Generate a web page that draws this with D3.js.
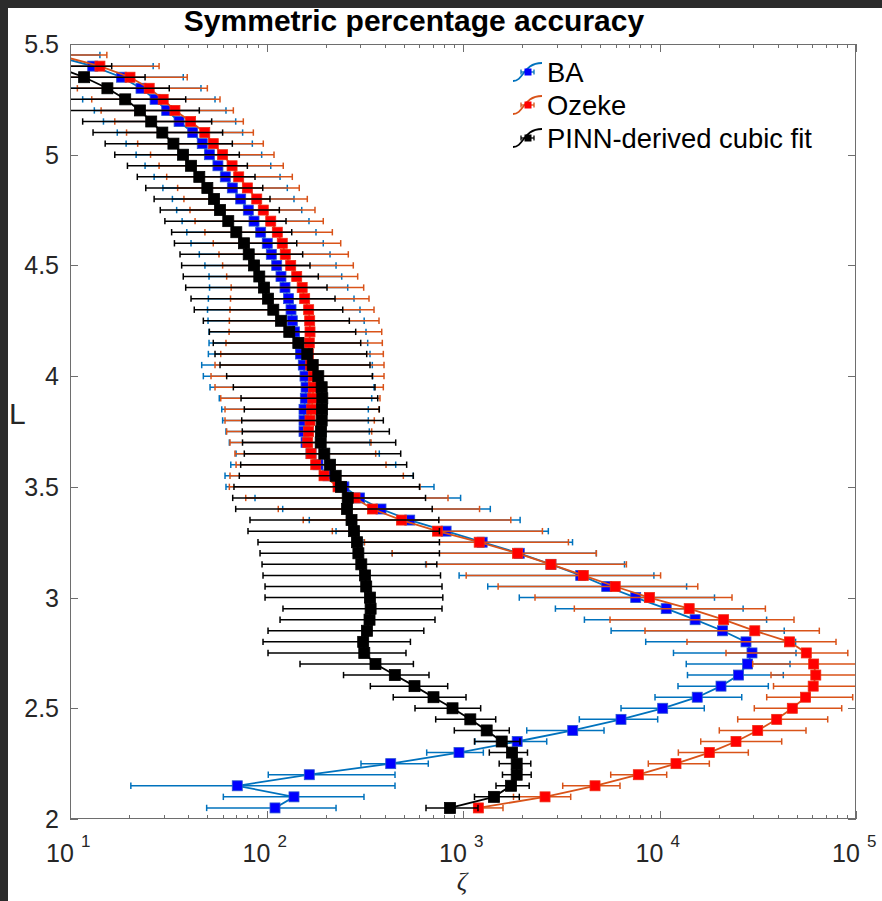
<!DOCTYPE html>
<html>
<head>
<meta charset="utf-8">
<script src="https://cdn.jsdelivr.net/npm/d3@7"></script>
<style>
  body { margin: 0; background: #fff; }
  svg { display: block; }
</style>
</head>
<body>
<svg id="chart" width="882" height="901"></svg>
<script>
// L shells for the BA and Ozeke series (top to bottom)
const Lvals = [5.45,5.40,5.35,5.30,5.25,5.20,5.15,5.10,5.05,5.00,
  4.95,4.90,4.85,4.80,4.75,4.70,4.65,4.60,4.55,4.50,
  4.45,4.40,4.35,4.30,4.25,4.20,4.15,4.10,4.05,4.00,
  3.95,3.90,3.85,3.80,3.75,3.70,3.65,3.60,3.55,3.50,
  3.45,3.40,3.35,3.30,3.25,3.20,3.15,3.10,3.05,3.00,
  2.95,2.90,2.85,2.80,2.75,2.70,2.65,2.60,2.55,2.50,
  2.45,2.40,2.35,2.30,2.25,2.20,2.15,2.10,2.05];

// BA: accuracy value and its lower / upper error limits
const baZeta = [8.10,13.05,18.3,22.98,27.1,31.05,35.9,42.1,47.1,51.2,
  56.6,61.7,67.0,73.9,80.8,86.4,93.4,100.9,105.8,112.7,
  118.5,124.2,129.4,133.3,135.3,138.8,146.3,148.9,153.9,157,
  158.9,157.6,155.2,155.2,155.2,158.9,168.5,182.9,205.6,247.7,
  297.4,382.6,535.6,820.4,1252,1934,2802,3972,5387,7567,
  10818,15180,20925,27555,29560,28070,25240,20560,15560,10380,
  6370,3617,1887,954,428.7,165.1,71.0,138,110.5];
const baLo = [5.57,6.64,8.39,9.54,11.6,13.3,14.8,17.4,19.3,21.7,
  24.1,26.8,29.7,33.2,34.9,37.2,39.3,41.3,45.5,48.6,
  51.0,51.3,50.6,50.1,50.4,51.0,51.0,50.6,46.8,47.7,
  51.6,57.5,59.2,59.8,62.2,64.7,70.0,65.8,61.5,62.2,
  87.4,120.9,165.1,225.9,313.4,436.4,645.3,955.4,1336,1934,
  2953,4148,5672,8508,11780,13680,13880,12420,9487,6370,
  3908,2110,1151,653.5,302.6,102.1,20.4,60.3,49.6];
const baHi = [14.2,26.5,37.7,46.4,54.7,62.2,69.7,75.6,84.7,94.5,
  105.1,117.2,127.6,138,151.1,164.5,178.6,194.5,210.5,225.9,
  241.4,259,278.8,299.1,314.1,320.9,327.3,336.3,345.5,347.2,
  352.5,343.1,329.7,329.7,333.6,336.3,375,454.5,558.5,711.8,
  972.3,1377,1953,2718,3609,4770,6636,9365,13740,19050,
  26640,35080,43120,49270,49510,46150,42660,35790,26210,16900,
  9790,5220,2667,1269,665.8,450.8,450.8,313.4,225.9];

// Ozeke
const ozZeta = [8.69,14.2,20.2,25.3,29.8,34.2,41.1,48.5,53.6,59.8,
  66.8,72.2,79.9,89.2,96.3,105.1,113.5,120.3,124.6,132.8,
  142.5,151.9,156.4,163.9,165.9,166.5,165.1,163.2,167.9,173.1,
  173.1,171.9,169.8,166.5,163.9,162.1,168.5,178,196.2,231.2,
  282.1,346.3,486.5,741.8,1209,1894,2802,4095,5953,8885,
  14160,21200,30550,45880,55860,60900,62430,60560,55400,47410,
  39480,31600,24510,17930,12130,7801,4698,2615,1197];
const ozLo = [5.90,7.04,8.69,10.9,12.9,14.4,16.9,19.4,22.1,25.7,
  28.4,31.05,35.3,38.0,40.8,43.3,48.6,53.6,57.3,59.8,
  62.7,66.1,65.6,65.2,64.7,64.5,62.2,58.5,54.7,52.2,
  54.7,58.5,61.5,61.5,62.7,65.2,69.1,70.0,65.2,64.7,
  78.4,114.8,153.8,216.3,315.2,436.4,651.1,1038,1509,2325,
  3686,5600,8438,13800,21800,29810,36940,38040,35120,30370,
  25000,20150,16210,12470,8770,5646,3217,1807,1138];
const ozHi = [15.4,28.4,39.5,50.0,58.0,67.8,76.2,85.7,96.3,109.2,
  121.7,135.3,146.8,161.3,176.5,194.5,216.3,238.6,260.8,276.5,
  291.1,312.3,332.4,352.5,373.7,385.8,388.5,393.1,396.3,396.3,
  393.1,378.1,373.7,353.7,343.1,340.3,359.5,405.7,497,604.1,
  838.9,1214,1751,2536,3439,4770,6786,10130,15660,23390,
  34580,48360,65060,79120,90840,120600,124900,102400,96200,84580,
  71780,55660,41870,28310,17930,10880,6295,3533,1598];

// PINN-derived cubic fit (starts one shell lower)
const pinnL = [5.40,5.35,5.30,5.25,5.20,5.15,5.10,5.05,5.00,
  4.95,4.90,4.85,4.80,4.75,4.70,4.65,4.60,4.55,4.50,
  4.45,4.40,4.35,4.30,4.25,4.20,4.15,4.10,4.05,4.00,
  3.95,3.90,3.85,3.80,3.75,3.70,3.65,3.60,3.55,3.50,
  3.45,3.40,3.35,3.30,3.25,3.20,3.15,3.10,3.05,3.00,
  2.95,2.90,2.85,2.80,2.75,2.70,2.65,2.60,2.55,2.50,
  2.45,2.40,2.35,2.30,2.25,2.20,2.15,2.10,2.05];
const pinnZeta = [8.29,11.8,15.5,19.1,22.7,25.9,29.5,33.6,37.6,
  41.3,45.5,50.0,54.1,58.0,63.9,70.2,76.8,81.2,86.4,
  91.9,97.1,101.8,108.3,118.5,130.6,145.2,161.3,171.9,183.5,
  190.9,192.3,191.6,190.9,189.4,188.7,196.9,210.5,225,239.4,
  259,257,270.8,278.8,288.8,293.5,303.7,317.5,321.7,335.9,
  338.7,334.4,324.3,310.5,314.5,358.6,449.8,566.5,707.7,884.5,
  1089.5,1320,1574,1776,1876,1876,1755,1438,858.8];
const pinnLo = [6.26,7.04,8.39,9.43,9.77,11.6,13.1,15.1,16.9,
  19.6,22.0,24.3,26.8,28.8,30.4,32.9,34.0,36.3,37.0,
  37.7,38.8,41.3,42.9,47.7,51.2,53.6,54.7,58.0,62.7,
  67.8,74.2,77.1,74.8,75.3,75.5,77.1,73.9,72.7,68.3,
  67.3,69.7,82.4,80.5,90.5,92.7,94.9,96.0,98.3,98.3,
  121.3,117.2,101.8,96.0,101.8,148.1,246.6,337.6,441.5,569.8,
  726.2,903.1,1144,1361,1528,1588,1472,1144,648.1];
const pinnHi = [16.3,24.1,32.0,38.8,45.5,52.6,59.8,67.0,72.7,
  79.9,87.4,95.7,104.2,116.2,125.7,134.4,142.5,152.8,166.5,
  183.5,203.2,223.2,244.3,263.9,284.4,301.6,323.6,336.3,345.5,
  356.6,368.1,375,393.1,421.7,454.5,481.9,516.8,558.5,600.5,
  644.6,697.1,753.3,758.6,758.6,758.6,735.8,768.4,782,789.4,
  782,720.2,631.8,540,512.7,559.2,671.4,835.8,1036,1230,
  1467,1720,1950,2129,2213,2223,2172,1934,1192];

const seriesNames = ["BA", "Ozeke", "PINN-derived cubic fit"];
const titleText = "Symmetric percentage accuracy";
const xDomain = [10, 1e5];
const yDomain = [2, 5.5];
const yTickValues = [2, 2.5, 3, 3.5, 4, 4.5, 5, 5.5];

// ---- layout ----
const W = 882, H = 901;
const box = { left: 70, right: 856, top: 44, bottom: 819 };
const FONT = "'Liberation Sans', Arial, Helvetica, sans-serif";

const x = d3.scaleLog().domain(xDomain).range([box.left, box.right]);
const y = d3.scaleLinear().domain(yDomain).range([box.bottom, box.top]);

const svg = d3.select("#chart");
svg.append("rect").attr("width", W).attr("height", H).attr("fill", "#fff");

svg.append("defs").append("clipPath").attr("id", "plotClip")
  .append("rect")
  .attr("x", box.left).attr("y", box.top)
  .attr("width", box.right - box.left).attr("height", box.bottom - box.top);

const series = [
  { name: seriesNames[0], L: Lvals, z: baZeta, lo: baLo, hi: baHi,
    color: "#0072BD", face: "#0000FF", edge: "#2a55d0", size: 10 },
  { name: seriesNames[1], L: Lvals, z: ozZeta, lo: ozLo, hi: ozHi,
    color: "#D95319", face: "#FF0000", edge: "#f02a10", size: 10 },
  { name: seriesNames[2], L: pinnL, z: pinnZeta, lo: pinnLo, hi: pinnHi,
    color: "#000000", face: "#000000", edge: "#000000", size: 11 }
];

const plot = svg.append("g").attr("clip-path", "url(#plotClip)");
const capH = 3.2;

series.forEach(s => {
  const pts = s.L.map((L, i) => ({ L, z: s.z[i], lo: s.lo[i], hi: s.hi[i] }));
  const g = plot.append("g");

  // horizontal error bars with end caps
  const eb = g.append("g").attr("stroke", s.color).attr("stroke-width", 1.5).attr("fill", "none");
  pts.forEach(p => {
    const yy = y(p.L);
    eb.append("line").attr("x1", x(p.lo)).attr("x2", x(p.hi)).attr("y1", yy).attr("y2", yy);
    eb.append("line").attr("x1", x(p.lo)).attr("x2", x(p.lo)).attr("y1", yy - capH).attr("y2", yy + capH);
    eb.append("line").attr("x1", x(p.hi)).attr("x2", x(p.hi)).attr("y1", yy - capH).attr("y2", yy + capH);
  });

  // connecting line
  g.append("path")
    .datum(pts)
    .attr("fill", "none")
    .attr("stroke", s.color)
    .attr("stroke-width", 1.8)
    .attr("d", d3.line().x(d => x(d.z)).y(d => y(d.L)));

  // square markers
  g.append("g").selectAll("rect").data(pts).join("rect")
    .attr("x", d => x(d.z) - s.size / 2)
    .attr("y", d => y(d.L) - s.size / 2)
    .attr("width", s.size).attr("height", s.size)
    .attr("fill", s.face)
    .attr("stroke", s.edge).attr("stroke-width", 0.8);
});

// ---- axes box and ticks ----
const axisColor = "#6e6e6e";
const axes = svg.append("g").attr("stroke", axisColor).attr("stroke-width", 1).attr("fill", "none");
axes.append("rect")
  .attr("x", box.left + 0.5).attr("y", box.top + 0.5)
  .attr("width", box.right - box.left - 1).attr("height", box.bottom - box.top - 1);

x.ticks().forEach(v => {
  const major = Math.abs(Math.log10(v) - Math.round(Math.log10(v))) < 1e-9;
  const len = major ? 8 : 4;
  const xx = Math.round(x(v)) + 0.5;
  axes.append("line").attr("x1", xx).attr("x2", xx).attr("y1", box.bottom).attr("y2", box.bottom - len);
  axes.append("line").attr("x1", xx).attr("x2", xx).attr("y1", box.top).attr("y2", box.top + len);
});
yTickValues.forEach(v => {
  const yy = Math.round(y(v)) + 0.5;
  axes.append("line").attr("x1", box.left).attr("x2", box.left + 8).attr("y1", yy).attr("y2", yy);
  axes.append("line").attr("x1", box.right).attr("x2", box.right - 8).attr("y1", yy).attr("y2", yy);
});

// y tick labels
svg.append("g").selectAll("text").data(yTickValues).join("text")
  .attr("x", box.left - 11)
  .attr("y", d => y(d) + 9)
  .attr("text-anchor", "end")
  .attr("font-family", FONT).attr("font-size", 25).attr("fill", "#262626")
  .text(d => d3.format("")(d));

// x tick labels: 10 with superscript exponent
const xMajors = x.ticks().filter(v => Math.abs(Math.log10(v) - Math.round(Math.log10(v))) < 1e-9);
const xl = svg.append("g").attr("font-family", FONT).attr("fill", "#262626");
xMajors.forEach(v => {
  const xx = x(v);
  xl.append("text").attr("x", xx - 24).attr("y", 862).attr("font-size", 25).text("10");
  xl.append("text").attr("x", xx + 11).attr("y", 847).attr("font-size", 17).text(String(Math.round(Math.log10(v))));
});

// axis labels
svg.append("text").attr("x", (box.left + box.right) / 2 - 1).attr("y", 890)
  .attr("text-anchor", "middle")
  .attr("font-family", "'Liberation Serif', 'DejaVu Serif', serif")
  .attr("font-style", "italic").attr("font-size", 26).attr("fill", "#262626")
  .text("ζ");
svg.append("text").attr("x", 9).attr("y", 424)
  .attr("font-family", FONT).attr("font-size", 30).attr("fill", "#262626")
  .text("L");

// title
svg.append("text").attr("x", 414).attr("y", 31)
  .attr("text-anchor", "middle")
  .attr("font-family", FONT).attr("font-weight", "bold").attr("font-size", 30).attr("fill", "#000")
  .text(titleText);

// ---- legend ----
const legend = svg.append("g");
series.forEach((s, i) => {
  const cy = 72 + i * 33;
  const g = legend.append("g").attr("transform", `translate(528,${cy})`);
  g.append("path")
    .attr("d", "M-15,9 C-4,9 -5,-9 14,-9")
    .attr("fill", "none").attr("stroke", s.color).attr("stroke-width", 1.8);
  g.append("line").attr("x1", -7).attr("x2", 6).attr("y1", 0).attr("y2", 0)
    .attr("stroke", s.color).attr("stroke-width", 1.3);
  [-7, 6].forEach(cx => g.append("line").attr("x1", cx).attr("x2", cx).attr("y1", -2.5).attr("y2", 2.5)
    .attr("stroke", s.color).attr("stroke-width", 1.3));
  g.append("rect").attr("x", -3.5).attr("y", -3.5).attr("width", 7).attr("height", 7)
    .attr("fill", s.face);
  legend.append("text").attr("x", 547).attr("y", cy + 10)
    .attr("font-family", FONT).attr("font-size", 27.4).attr("fill", "#000")
    .text(s.name);
});

// dark frame strips along the top and left edges
svg.append("rect").attr("x", 0).attr("y", 0).attr("width", W).attr("height", 8).attr("fill", "#2b2b2b");
svg.append("rect").attr("x", 0).attr("y", 0).attr("width", 8).attr("height", H).attr("fill", "#2b2b2b");
</script>
</body>
</html>
